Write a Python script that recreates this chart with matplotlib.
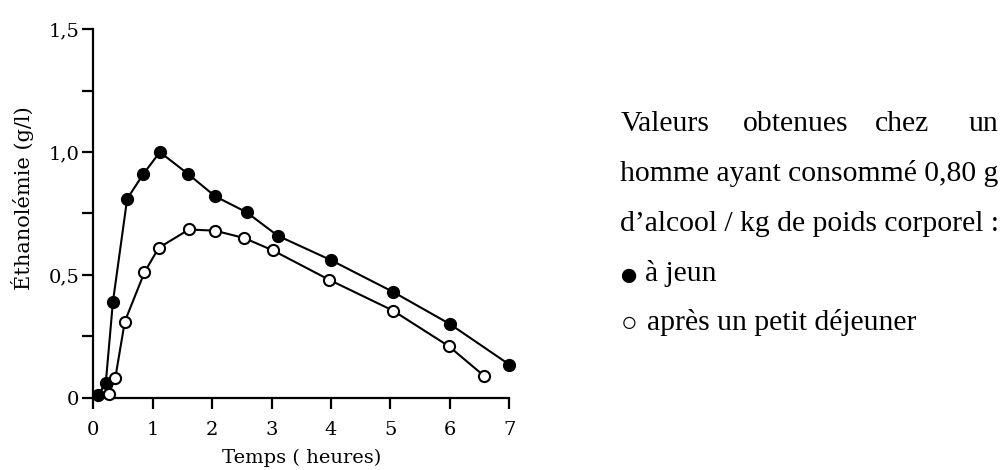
import matplotlib
matplotlib.use("Agg")
import matplotlib.pyplot as plt

# Données (temps en heures, éthanolémie en g/l)
temps_jeun = [0.08, 0.21, 0.33, 0.57, 0.84, 1.12, 1.6, 2.05, 2.58, 3.1, 4.0, 5.05, 6.0, 7.0]
etha_jeun = [0.01, 0.06, 0.39, 0.81, 0.91, 1.0, 0.91, 0.82, 0.755, 0.66, 0.56, 0.43, 0.30, 0.135]

temps_repas = [0.26, 0.37, 0.53, 0.86, 1.1, 1.61, 2.05, 2.54, 3.02, 3.97, 5.04, 5.98, 6.57]
etha_repas = [0.015, 0.08, 0.31, 0.51, 0.61, 0.685, 0.68, 0.65, 0.60, 0.48, 0.355, 0.21, 0.09]

xticks = [0, 1, 2, 3, 4, 5, 6, 7]
yticks_major = [0, 0.5, 1.0, 1.5]
yticklabels = ["0", "0,5", "1,0", "1,5"]
yticks_minor = [0.25, 0.75, 1.25]

axe_font = ["DejaVu Serif"]
texte_font = ["Liberation Serif", "DejaVu Serif"]
plt.rcParams["font.family"] = axe_font

W, H = 1000, 470
fig = plt.figure(figsize=(10, 4.7), dpi=100)
ax = fig.add_axes([0.0933, 0.1538, 0.416, 0.7839])

ax.plot(temps_jeun, etha_jeun, color="black", linewidth=1.5, marker="o",
        markersize=8.5, markerfacecolor="black", markeredgecolor="black",
        clip_on=False, zorder=3)
ax.plot(temps_repas, etha_repas, color="black", linewidth=1.5, marker="o",
        markersize=8, markerfacecolor="white", markeredgecolor="black",
        markeredgewidth=1.5, clip_on=False, zorder=3)

ax.set_xlim(0, 7)
ax.set_ylim(0, 1.5)
ax.set_xticks(xticks)
ax.set_yticks(yticks_major)
ax.set_yticklabels(yticklabels)
ax.set_yticks(yticks_minor, minor=True)

for side in ["top", "right"]:
    ax.spines[side].set_visible(False)
for side in ["left", "bottom"]:
    ax.spines[side].set_linewidth(1.6)

ax.tick_params(axis="both", which="both", direction="out", length=8, width=1.6,
               labelsize=14)
ax.tick_params(axis="x", pad=9)
ax.tick_params(axis="y", pad=2)

# Titres des axes
fig.text(302 / W, 1 - 463 / H, "Temps ( heures)", fontsize=14,
         ha="center", va="baseline")
fig.text(23 / W, 1 - 198 / H, "Éthanolémie (g/l)", fontsize=15,
         ha="center", va="center", rotation=90)

# Texte explicatif à droite
fs = 21.3
def ligne(x, y, s, **kw):
    fig.text(x / W, 1 - y / H, s, fontsize=kw.pop("size", fs), family=texte_font,
             va="baseline", **kw)

ligne(621, 131.5, "Valeurs", ha="left")
ligne(743, 131.5, "obtenues", ha="left")
ligne(875, 131.5, "chez", ha="left")
ligne(998, 131.5, "un", ha="right")
ligne(620, 181, "homme ayant consommé 0,80 g", ha="left")
ligne(620, 231, "d’alcool / kg de poids corporel :", ha="left")
ligne(618, 285, "●", ha="left", size=24)
ligne(645, 281, "à jeun", ha="left")
ligne(621, 331, "○", ha="left", size=20)
ligne(647, 330.5, "après un petit déjeuner", ha="left")

fig.savefig("out.png", dpi=100)
